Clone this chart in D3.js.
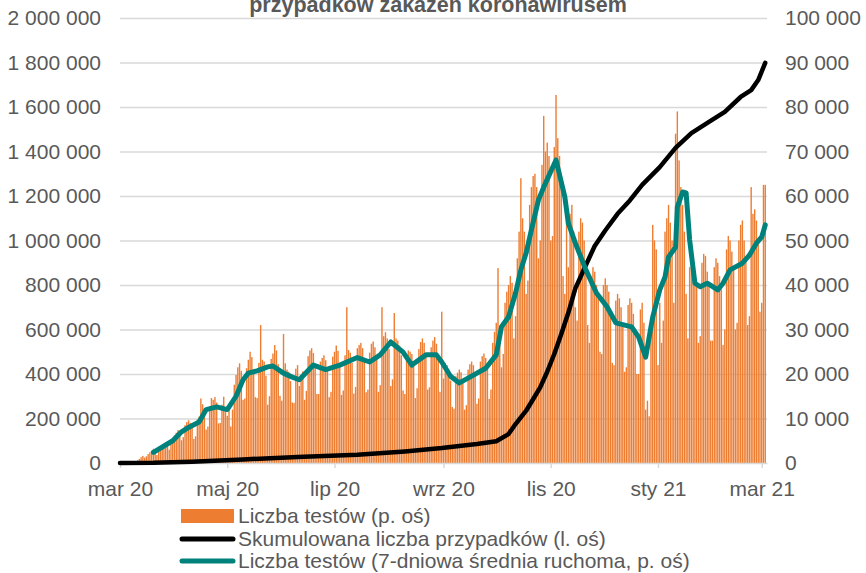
<!DOCTYPE html>
<html>
<head>
<meta charset="utf-8">
<script src="https://cdn.jsdelivr.net/npm/d3@7"></script>
<style>
body { margin: 0; background: #fff; }
text { font-family: "Liberation Sans", Arial, sans-serif; }
</style>
</head>
<body>
<script>
// daily tests (thousands), one row per week, first day Monday 2020-03-09
var testStart = "2020-03-09";
var tests = [
  0.3,0.4,0.6,0.9,1.3,1.6,1.2,
  1.5,2.0,2.4,2.8,3.2,2.9,1.8,
  2.5,3.6,4.0,4.3,4.6,4.1,3.0,
  4.2,5.6,6.2,6.8,7.4,7.0,5.1,
  5.8,8.5,9.2,9.6,9.0,8.2,5.4,
  6.0,9.8,10.4,14.5,13.2,11.8,7.5,
  8.2,12.8,14.6,14.2,14.8,13.6,8.9,
  9.0,13.1,14.9,12.3,10.6,11.8,8.2,
  12.0,17.6,19.8,21.5,22.4,20.7,14.2,
  14.5,21.3,23.2,25.0,23.8,21.0,14.8,
  14.6,22.5,31.0,23.2,22.8,19.6,13.1,
  15.0,23.4,24.6,26.5,25.3,22.2,15.1,
  14.0,29.0,22.4,21.0,20.5,18.4,13.6,
  13.5,21.2,22.0,17.3,19.5,20.6,14.2,
  16.2,24.0,25.3,25.8,24.7,22.3,15.5,
  15.5,22.8,23.6,24.2,23.1,21.4,14.8,
  16.0,23.9,25.0,26.4,25.2,22.0,15.3,
  16.3,24.2,35.0,25.4,24.8,22.5,15.6,
  17.1,25.8,26.5,27.0,25.8,23.0,15.9,
  16.5,24.8,26.8,27.3,26.0,24.0,16.0,
  17.5,35.0,28.5,29.4,28.0,25.6,17.3,
  18.8,33.7,28.0,27.5,26.4,24.2,16.3,
  15.5,23.5,25.3,25.0,24.5,22.0,14.6,
  16.8,25.6,27.2,28.0,27.0,24.6,16.5,
  17.0,26.0,27.5,28.3,26.8,24.0,16.0,
  34.0,19.0,22.5,22.0,21.0,18.5,12.6,
  12.2,19.5,20.3,21.0,20.4,18.2,12.0,
  13.0,21.0,22.2,22.8,22.0,19.6,13.3,
  14.5,22.8,24.0,24.6,23.6,21.3,14.4,
  16.5,27.0,29.5,31.5,43.8,30.5,21.5,
  24.5,36.0,38.5,40.0,42.0,40.5,28.0,
  33.0,46.0,52.0,64.0,55.0,52.0,38.0,
  41.0,58.0,62.0,64.5,65.0,62.0,46.0,
  50.0,67.0,78.0,70.0,72.0,69.0,50.0,
  51.0,71.0,82.7,73.0,69.0,63.0,42.0,
  38.0,58.0,44.0,56.0,58.0,52.0,35.0,
  32.0,52.0,55.0,54.0,50.0,45.0,31.0,
  27.0,42.0,44.0,43.0,40.0,37.0,25.0,
  24.5,40.0,41.5,40.0,38.5,34.0,22.5,
  22.0,36.5,38.0,37.0,35.0,31.0,20.5,
  21.5,35.5,37.0,36.0,33.5,30.0,20.0,
  20.0,34.5,36.0,31.5,12.0,14.0,10.5,
  30.0,53.5,50.0,48.0,22.0,36.0,27.0,
  32.0,52.0,55.0,58.0,54.0,50.0,36.0,
  74.0,79.0,68.0,62.0,58.0,52.0,38.0,
  28.0,44.0,46.0,45.0,42.0,40.0,27.0,
  28.5,45.0,47.0,46.5,43.0,40.5,27.5,
  27.5,44.0,46.0,45.0,42.0,39.0,26.5,
  30.0,48.0,51.0,50.0,47.5,44.0,30.0,
  31.5,50.0,53.5,54.5,50.0,46.5,31.0,
  33.0,62.0,56.0,57.0,54.5,50.0,34.0,
  36.0,62.5,62.5
];

// 7-day moving average of tests (thousands)
var maDates = ["2020-03-20","2020-03-31","2020-04-05","2020-04-09","2020-04-15","2020-04-19","2020-04-25",
  "2020-05-01","2020-05-06","2020-05-10","2020-05-13","2020-05-18","2020-05-24","2020-05-27",
  "2020-06-02","2020-06-07","2020-06-11","2020-06-19","2020-06-26","2020-07-04","2020-07-14",
  "2020-07-21","2020-07-27","2020-08-02","2020-08-09","2020-08-14","2020-08-22","2020-08-28",
  "2020-08-31","2020-09-05","2020-09-10","2020-09-16","2020-09-25","2020-10-01","2020-10-04",
  "2020-10-08","2020-10-12","2020-10-15","2020-10-18","2020-10-21","2020-10-25","2020-10-28",
  "2020-11-04","2020-11-09","2020-11-11","2020-11-15","2020-11-21","2020-11-27","2020-12-03",
  "2020-12-08","2020-12-17","2020-12-21","2020-12-25","2020-12-29","2021-01-02","2021-01-05",
  "2021-01-07","2021-01-11","2021-01-12","2021-01-15","2021-01-17","2021-01-19","2021-01-22",
  "2021-01-25","2021-01-29","2021-02-04","2021-02-07","2021-02-11","2021-02-18","2021-02-22",
  "2021-02-26","2021-03-01","2021-03-03"];
var maValues = [2.4,5.0,7.0,8.0,9.2,12.0,12.6,
  12.0,15.0,18.7,20.2,20.7,21.6,21.8,
  20.2,19.3,18.7,22.0,21.0,22.0,23.7,
  22.7,24.3,27.2,24.9,22.0,24.3,24.3,
  22.7,19.5,18.0,19.3,21.3,24.3,30.6,
  32.8,38.2,43.4,47.2,52.4,59.1,62.0,
  68.1,59.8,53.9,49.4,43.4,38.2,35.1,
  31.5,30.6,28.3,23.8,32.8,38.9,41.8,
  46.3,48.5,57.5,60.9,60.7,50.1,40.4,
  39.6,40.4,38.9,40.4,43.4,44.9,46.7,
  49.4,50.8,53.5];

// cumulative cases (thousands)
var cumDates = ["2020-03-01","2020-03-20","2020-04-11","2020-05-10","2020-06-10","2020-07-14","2020-08-10",
  "2020-08-31","2020-09-20","2020-10-01","2020-10-08","2020-10-12","2020-10-18","2020-10-23",
  "2020-10-26","2020-10-30","2020-11-03","2020-11-07","2020-11-11","2020-11-15","2020-11-21",
  "2020-11-26","2020-12-02","2020-12-09","2020-12-16","2020-12-23","2021-01-02","2021-01-11",
  "2021-01-20","2021-01-30","2021-02-08","2021-02-17","2021-02-23","2021-02-27","2021-03-03"];
var cumValues = [0,1,6,16,27,37,52,
  67,85,98,130,175,235,300,
  340,410,490,580,675,785,890,
  975,1045,1120,1180,1250,1330,1416,
  1483,1533,1578,1645,1676,1721,1798];

var xTickDates = ["2020-03-01","2020-05-01","2020-07-01","2020-09-01","2020-11-01","2021-01-01","2021-03-01"];
var xTickLabels = ["mar 20","maj 20","lip 20","wrz 20","lis 20","sty 21","mar 21"];
var leftTicks = [0,200000,400000,600000,800000,1000000,1200000,1400000,1600000,1800000,2000000];
var rightTicks = [0,10000,20000,30000,40000,50000,60000,70000,80000,90000,100000];
var titleText = "przypadków zakażeń koronawirusem";
var legendLabels = ["Liczba testów (p. oś)",
  "Skumulowana liczba przypadków (l. oś)",
  "Liczba testów (7-dniowa średnia ruchoma, p. oś)"];

var width = 866, height = 573;
var margin = {left:120, right:99, top:18, bottom:110};
var plotW = width - margin.left - margin.right;
var plotH = height - margin.top - margin.bottom;

var orange = "#ED7D31", teal = "#00827C", grey = "#595959", gridCol = "#D9D9D9";
var fontSize = "21px";

var parseDate = d3.timeParse("%Y-%m-%d");
var fmt = d3.formatLocale({decimal:",", thousands:" ", grouping:[3], currency:["",""]}).format(",d");

var x = d3.scaleTime()
  .domain([parseDate("2020-03-01"), parseDate("2021-03-04")])
  .range([0, plotW]);
var yL = d3.scaleLinear().domain([0, 2000000]).range([plotH, 0]);
var yR = d3.scaleLinear().domain([0, 100000]).range([plotH, 0]);

var svg = d3.select("body").append("svg").attr("width", width).attr("height", height);

svg.append("text")
  .attr("x", 438).attr("y", 12)
  .attr("text-anchor", "middle")
  .attr("font-size", "21.5px").attr("font-weight", "bold")
  .attr("fill", grey)
  .text(titleText);

var chartGroup = svg.append("g").attr("transform", "translate(" + margin.left + "," + margin.top + ")");

// gridlines
var grid = chartGroup.append("g")
  .call(d3.axisLeft(yL).tickValues(leftTicks.slice(1)).tickSize(-plotW).tickFormat(""));
grid.select(".domain").remove();
grid.selectAll("line").attr("stroke", gridCol).attr("stroke-width", 1.5);

// bars
var t0 = parseDate(testStart);
chartGroup.append("g").selectAll("rect")
  .data(tests)
  .enter().append("rect")
  .attr("x", function(d, i) { return x(d3.timeDay.offset(t0, i)) - 0.7; })
  .attr("width", 1.4)
  .attr("y", function(d) { return yR(d * 1000); })
  .attr("height", function(d) { return plotH - yR(d * 1000); })
  .attr("fill", orange);

// x axis
var xAxis = chartGroup.append("g")
  .attr("transform", "translate(0," + plotH + ")")
  .call(d3.axisBottom(x)
    .tickValues(xTickDates.map(parseDate))
    .tickFormat(function(d, i) { return xTickLabels[i]; })
    .tickSize(5).tickSizeOuter(0).tickPadding(13));
xAxis.select(".domain").attr("stroke", gridCol).attr("stroke-width", 1.5);
xAxis.selectAll("line").attr("stroke", gridCol).attr("stroke-width", 1.5);
xAxis.selectAll("text").attr("font-size", fontSize).attr("fill", grey).attr("font-family", null);

// left / right axes
var yAxisL = chartGroup.append("g")
  .call(d3.axisLeft(yL).tickValues(leftTicks).tickFormat(fmt).tickSize(0).tickPadding(19));
var yAxisR = chartGroup.append("g")
  .attr("transform", "translate(" + plotW + ",0)")
  .call(d3.axisRight(yR).tickValues(rightTicks).tickFormat(fmt).tickSize(0).tickPadding(18));
[yAxisL, yAxisR].forEach(function(a) {
  a.select(".domain").remove();
  a.selectAll("text").attr("font-size", fontSize).attr("fill", grey).attr("font-family", null);
});

// cumulative cases (left axis)
var cumLine = d3.line()
  .x(function(d, i) { return x(parseDate(cumDates[i])); })
  .y(function(d) { return yL(d * 1000); });
chartGroup.append("path")
  .attr("d", cumLine(cumValues))
  .attr("fill", "none").attr("stroke", "#000").attr("stroke-width", 4.5)
  .attr("stroke-linejoin", "round").attr("stroke-linecap", "round");

// 7-day average (right axis)
var maLine = d3.line()
  .x(function(d, i) { return x(parseDate(maDates[i])); })
  .y(function(d) { return yR(d * 1000); });
chartGroup.append("path")
  .attr("d", maLine(maValues))
  .attr("fill", "none").attr("stroke", teal).attr("stroke-width", 5)
  .attr("stroke-linejoin", "round").attr("stroke-linecap", "round");

// legend
var legend = svg.append("g").attr("transform", "translate(181,0)");
var rows = [516, 539, 561];
legend.append("rect").attr("x", 0).attr("y", rows[0] - 7).attr("width", 53).attr("height", 14).attr("fill", orange);
legend.append("line").attr("x1", 1).attr("x2", 52).attr("y1", rows[1]).attr("y2", rows[1])
  .attr("stroke", "#000").attr("stroke-width", 5).attr("stroke-linecap", "round");
legend.append("line").attr("x1", 1).attr("x2", 52).attr("y1", rows[2]).attr("y2", rows[2])
  .attr("stroke", teal).attr("stroke-width", 5).attr("stroke-linecap", "round");
legend.selectAll("text.lbl")
  .data(legendLabels)
  .enter().append("text")
  .attr("class", "lbl")
  .attr("x", 57)
  .attr("y", function(d, i) { return rows[i] + 7; })
  .attr("font-size", fontSize).attr("fill", grey)
  .text(function(d) { return d; });
</script>
</body>
</html>
